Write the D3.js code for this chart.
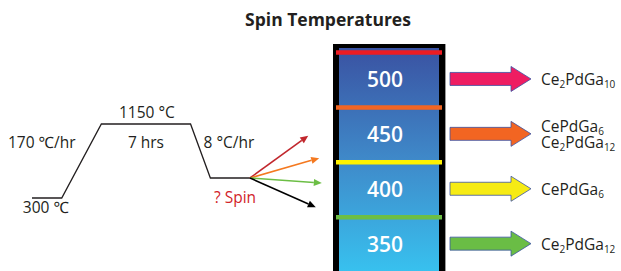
<!DOCTYPE html>
<html><head><meta charset="utf-8">
<script src="https://cdn.jsdelivr.net/npm/d3@7"></script>
<style>
html,body{margin:0;padding:0;background:#fff;}
svg{display:block;font-family:"Open Sans","Noto Sans",sans-serif;}
</style></head>
<body>
<svg id="c" width="621" height="271"></svg>
<script>
// ---- data ----
const title = "Spin Temperatures";
// schematic heating profile: time (h, schematic) vs temperature (°C)
const profileTimes = [0, 3, 7, 16, 18, 22];
const profileTemps = [300, 300, 1150, 1150, 530, 530];
const profileLabels = ["300 ℃", "170 ℃/hr", "1150 °C", "7 hrs", "8 °C/hr", "? Spin"];
// spin temperatures and their outcomes
const spinTemps = [500, 450, 400, 350];
const bandEdges = [525, 475, 425, 375];
const edgeColors = ["#ed1c24", "#f26522", "#fff200", "#6cbe45"];
const arrowColors = ["#ee1d62", "#f26522", "#f6eb14", "#6abd45"];
const products = [["Ce2PdGa10"], ["CePdGa6", "Ce2PdGa12"], ["CePdGa6"], ["Ce2PdGa12"]];
const spinArrowColors = ["#c1272d", "#f47920", "#6cbe45", "#000000"];

// ---- drawing ----
const svg = d3.select("#c");
const ink = "#231f20";

svg.append("text").attr("x", 328).attr("y", 26).attr("text-anchor", "middle")
  .attr("font-size", 17.5).attr("font-weight", 700).attr("fill", ink).text(title);

// profile
const xP = d3.scaleLinear().domain([0, 22]).range([32, 250]);
const yP = d3.scaleLinear().domain([300, 1150]).range([198, 124]);
const pts = profileTimes.map((t, i) => [xP(t), yP(profileTemps[i])]);
svg.append("path").attr("d", d3.line()(pts)).attr("fill", "none")
  .attr("stroke", ink).attr("stroke-width", 1.3);

const fs = 15.5;
const lbl = (x, y, t, col, anchor) => svg.append("text").attr("x", x).attr("y", y)
  .attr("text-anchor", anchor || "middle").attr("font-size", fs).attr("fill", col || ink).text(t);
lbl((xP(0) + xP(3)) / 2 - 1, yP(300) + 15, profileLabels[0]);
lbl(xP(0) - 24, 148, profileLabels[1], null, "start");
lbl((xP(7) + xP(16)) / 2 + 1, yP(1150) - 6, profileLabels[2]);
lbl((xP(7) + xP(16)) / 2, 148, profileLabels[3]);
lbl(xP(16) + 13, 148, profileLabels[4], null, "start");
lbl(xP(22) - 15, yP(530) + 25, profileLabels[5], "#d2232a");

// spin arrows
const ang = d3.scaleLinear().domain([350, 500]).range([24, -36]);
const x0 = xP(22), y0 = yP(530);
spinTemps.forEach((T, i) => {
  const a = ang(T) * Math.PI / 180, len = 72;
  const x1 = x0 + len * Math.cos(a), y1 = y0 + len * Math.sin(a);
  const hl = 8, hw = 3.5;
  const bx = x1 - hl * Math.cos(a), by = y1 - hl * Math.sin(a);
  svg.append("line").attr("x1", x0).attr("y1", y0).attr("x2", bx).attr("y2", by)
    .attr("stroke", spinArrowColors[i]).attr("stroke-width", 1.6);
  const px = -Math.sin(a), py = Math.cos(a);
  svg.append("path").attr("d", `M${x1},${y1}L${bx + hw * px},${by + hw * py}L${bx - hw * px},${by - hw * py}Z`)
    .attr("fill", spinArrowColors[i]);
});

// temperature column
const yS = d3.scaleLinear().domain([525, 375]).range([52.5, 217.2]);
const defs = svg.append("defs");
const g = defs.append("linearGradient").attr("id", "gr").attr("x1", 0).attr("y1", 0).attr("x2", 0).attr("y2", 1);
g.append("stop").attr("offset", 0).attr("stop-color", "#3a52a2");
g.append("stop").attr("offset", 0.5).attr("stop-color", "#3f8ccb");
g.append("stop").attr("offset", 1).attr("stop-color", "#37c6f2");
const boxTop = 44, boxBottom = yS(320);
svg.append("rect").attr("x", 333).attr("y", boxTop).attr("width", 112).attr("height", boxBottom - boxTop).attr("fill", "#000");
svg.append("rect").attr("x", 339).attr("y", boxTop + 4).attr("width", 100).attr("height", boxBottom - boxTop).attr("fill", "url(#gr)");
svg.append("line").attr("x1", 445.5).attr("x2", 445.5).attr("y1", boxTop).attr("y2", boxBottom).attr("stroke", "#999").attr("stroke-width", 1);

bandEdges.forEach((e, i) => {
  svg.append("line").attr("x1", 336).attr("x2", 442).attr("y1", yS(e)).attr("y2", yS(e))
    .attr("stroke", edgeColors[i]).attr("stroke-width", 4.5);
});
spinTemps.forEach((T, i) => {
  svg.append("text").attr("x", 385).attr("y", yS(T) + 7.5).attr("text-anchor", "middle")
    .attr("font-size", 21).attr("font-weight", 600).attr("fill", "#fff").text(T);
});

// outcome arrows
const ax0 = 450, ax1 = 531, headL = 20, bodyH = 6.5, headH = 12.5;
spinTemps.forEach((T, i) => {
  const cy = yS(T) - 1;
  const d = `M${ax0},${cy - bodyH}L${ax1 - headL},${cy - bodyH}L${ax1 - headL},${cy - headH}L${ax1},${cy}` +
    `L${ax1 - headL},${cy + headH}L${ax1 - headL},${cy + bodyH}L${ax0},${cy + bodyH}Z`;
  svg.append("path").attr("d", d).attr("fill", arrowColors[i]).attr("stroke", "#3b53a4").attr("stroke-width", 0.8);
  const lines = products[i];
  lines.forEach((p, k) => {
    const base = lines.length === 1 ? cy + 6 : cy - 2 + k * 16;
    const t = svg.append("text").attr("x", 541).attr("y", base).attr("font-size", 15.5).attr("fill", ink);
    let shifted = false;
    p.split(/(\d+)/).filter(s => s.length).forEach(s => {
      if (/^\d+$/.test(s)) {
        t.append("tspan").attr("font-size", 10).attr("dy", 3.5).text(s);
        shifted = true;
      } else {
        t.append("tspan").attr("font-size", 15.5).attr("dy", shifted ? -3.5 : 0).text(s);
        shifted = false;
      }
    });
  });
});
</script>
</body></html>
